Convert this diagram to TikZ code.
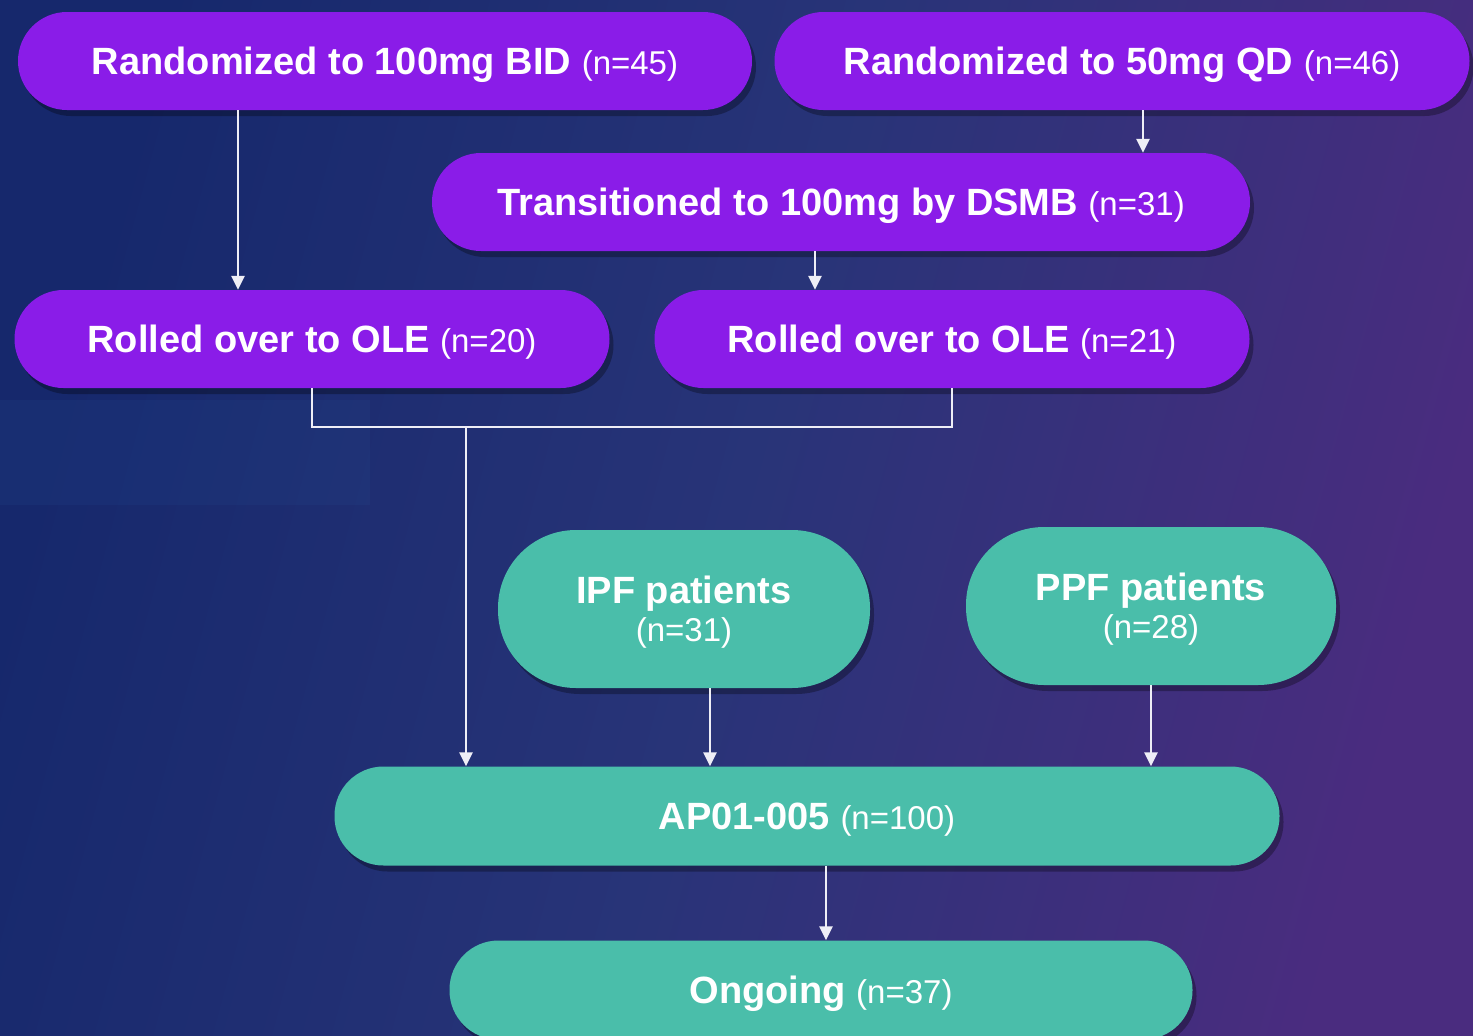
\documentclass[tikz,border=0pt]{standalone}
\usepackage{fontspec}
\setmainfont{Liberation Sans}
\usetikzlibrary{arrows.meta,shadows}

\definecolor{bgnavy}{RGB}{22,40,108}
\definecolor{bgmid}{RGB}{40,52,120}
\definecolor{bgplum}{RGB}{74,44,127}
\definecolor{panelblue}{RGB}{40,90,160}
\definecolor{armviolet}{RGB}{138,28,232}
\definecolor{poolteal}{RGB}{74,190,170}
\definecolor{wire}{RGB}{238,238,246}

% regular-weight count after the bold label
\newcommand{\cnt}[1]{{\mdseries\fontsize{33}{40}\selectfont #1}}

\begin{document}
\begin{tikzpicture}[
    x=1pt, y=-1pt,
    >={Triangle[width=13pt,length=14pt]},
    every node/.style={
        text=white,
        font=\bfseries\fontsize{38}{40}\selectfont
    },
    arm/.style={
        rectangle, fill=armviolet,
        rounded corners=49pt,
        minimum height=98pt,
        inner sep=0pt,
        text depth=0pt,
        drop shadow={fill=black, opacity=0.3, shadow xshift=4pt, shadow yshift=-6pt}
    },
    pool/.style={
        rectangle, fill=poolteal,
        rounded corners=49pt,
        minimum height=99pt,
        inner sep=0pt,
        text depth=0pt,
        drop shadow={fill=black, opacity=0.3, shadow xshift=4pt, shadow yshift=-6pt}
    },
    cohort/.style={
        pool,
        rounded corners=78pt,
        minimum height=158pt,
        align=center
    },
    link/.style={
        draw=wire,
        line width=2.8pt
    }
]

% background
\useasboundingbox (0,0) rectangle (1473,1036);
\shade[left color=bgnavy, right color=bgplum, middle color=bgmid, shading angle=75]
    (0,0) rectangle (1473,1036);
\fill[panelblue, opacity=0.12] (0,400) rectangle (370,505);

% study arms
\node[arm, minimum width=734pt] (r100) at (385,61)
    {Randomized to 100mg BID \cnt{(n=45)}};
\node[arm, minimum width=695pt] (r50) at (1122,61)
    {Randomized to 50mg QD \cnt{(n=46)}};

\node[arm, minimum width=818pt] (dsmb) at (841,202)
    {Transitioned to 100mg by DSMB \cnt{(n=31)}};

\node[arm, minimum width=595pt] (ole1) at (312,339)
    {Rolled over to OLE \cnt{(n=20)}};
\node[arm, minimum width=595pt] (ole2) at (952,339)
    {Rolled over to OLE \cnt{(n=21)}};

% new cohorts
\node[cohort, minimum width=372pt] (ipf) at (684,609)
    {IPF patients\\[-2pt]\cnt{(n=31)}};
\node[cohort, minimum width=370pt] (ppf) at (1151,606)
    {PPF patients\\[-2pt]\cnt{(n=28)}};

\node[pool, minimum width=945pt] (ap) at (807,816)
    {AP01-005 \cnt{(n=100)}};
\node[pool, minimum width=743pt] (ongo) at (821,990)
    {Ongoing \cnt{(n=37)}};

% connectors
\draw[link,->] (r100.south -| 238,0) -- (ole1.north -| 238,0);
\draw[link,->] (r50.south -| 1143,0) -- (dsmb.north -| 1143,0);
\draw[link,->] (dsmb.south -| 815,0) -- (ole2.north -| 815,0);

\coordinate (merge) at (466,427);
\draw[link] (ole1.south) -- (ole1.south |- merge) -| (ole2.south);
\draw[link,->] (merge) -- (ap.north -| merge);

\draw[link,->] (ipf.south -| 710,0) -- (ap.north -| 710,0);
\draw[link,->] (ppf.south) -- (ap.north -| ppf.south);
\draw[link,->] (ap.south -| 826,0) -- (ongo.north -| 826,0);

\end{tikzpicture}
\end{document}
